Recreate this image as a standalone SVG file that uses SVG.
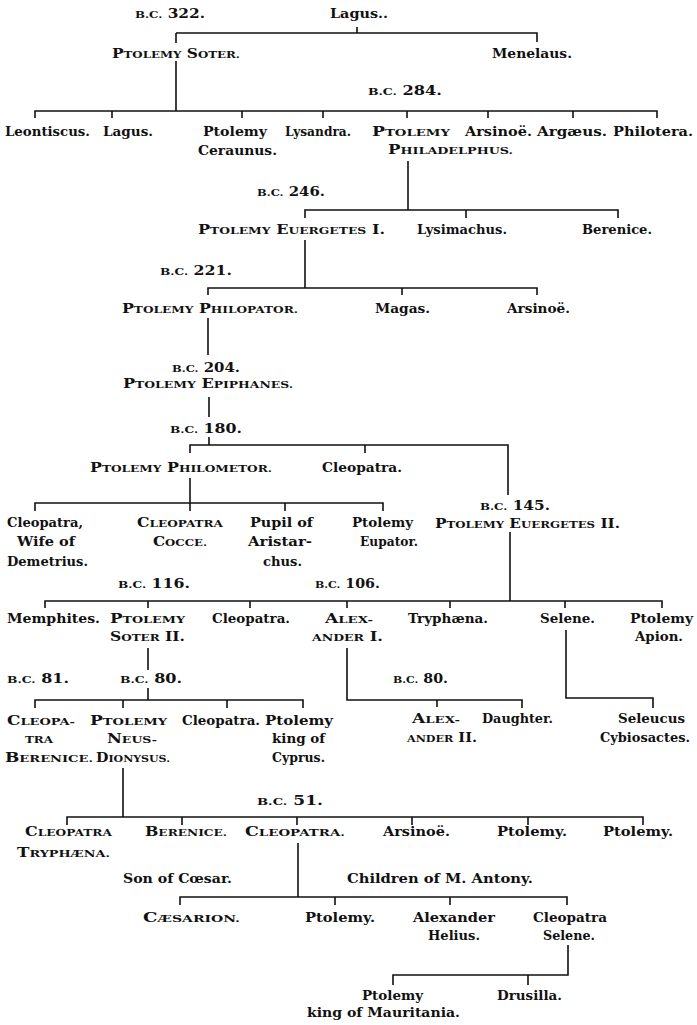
<svg xmlns="http://www.w3.org/2000/svg" width="697" height="1025" viewBox="0 0 697 1025">
<style>
text{font-family:"DejaVu Serif","Liberation Serif",serif;font-weight:bold;font-size:13px;fill:#111}
.s{font-size:10px}
.c path{stroke:#111;stroke-width:1.6;fill:none}
</style>
<rect width="697" height="1025" fill="#fff"/>
<g class="c" id="connectors">
<path d="M357 27V33M176 33H537V42M176 33V43M176 61V111"/>
<path d="M35 118V111H657V118M112 111V118M242 111V118M323 111V118M407 111V118M488 111V118M573 111V118"/>
<path d="M408 161V210"/>
<path d="M305 218V210H618V218M466 210V218"/>
<path d="M305 240V288"/>
<path d="M208 295V288H537V295M402 288V295"/>
<path d="M208 318V355M209 397V417M209 437V445"/>
<path d="M190 453V445H508V495M365 445V453"/>
<path d="M190 478V511"/>
<path d="M35 511V503H383V511M285 503V511"/>
<path d="M510 532V601"/>
<path d="M45 608V601H662V608M148 601V608M250 601V608M347 601V608M450 601V608M565 601V608"/>
<path d="M148 648V670M148 688V700"/>
<path d="M35 708V700H303V708M123 700V708M227 700V708"/>
<path d="M347 648V700H522V708M437 700V707"/>
<path d="M566 630V698H653V708"/>
<path d="M123 768V817M67 825V817H643V825M182 817V825M297 817V825M412 817V825M528 817V825"/>
<path d="M298 843V897M180 905V897H567V905M335 897V905M450 897V905"/>
<path d="M568 945V975H393V985M528 975V985"/>
</g>
<g id="dates">
<text x="135" y="18" textLength="70" lengthAdjust="spacingAndGlyphs"><tspan class="s">B.C.</tspan> 322.</text>
<text x="368" y="95" textLength="74" lengthAdjust="spacingAndGlyphs"><tspan class="s">B.C.</tspan> 284.</text>
<text x="257" y="196" textLength="68" lengthAdjust="spacingAndGlyphs"><tspan class="s">B.C.</tspan> 246.</text>
<text x="160" y="275" textLength="72" lengthAdjust="spacingAndGlyphs"><tspan class="s">B.C.</tspan> 221.</text>
<text x="172" y="372" textLength="68" lengthAdjust="spacingAndGlyphs"><tspan class="s">B.C.</tspan> 204.</text>
<text x="170" y="433" textLength="72" lengthAdjust="spacingAndGlyphs"><tspan class="s">B.C.</tspan> 180.</text>
<text x="480" y="510" textLength="70" lengthAdjust="spacingAndGlyphs"><tspan class="s">B.C.</tspan> 145.</text>
<text x="118" y="588" textLength="72" lengthAdjust="spacingAndGlyphs"><tspan class="s">B.C.</tspan> 116.</text>
<text x="315" y="588" textLength="65" lengthAdjust="spacingAndGlyphs"><tspan class="s">B.C.</tspan> 106.</text>
<text x="7" y="683" textLength="62" lengthAdjust="spacingAndGlyphs"><tspan class="s">B.C.</tspan> 81.</text>
<text x="120" y="683" textLength="62" lengthAdjust="spacingAndGlyphs"><tspan class="s">B.C.</tspan> 80.</text>
<text x="393" y="683" textLength="55" lengthAdjust="spacingAndGlyphs"><tspan class="s">B.C.</tspan> 80.</text>
<text x="257" y="805" textLength="66" lengthAdjust="spacingAndGlyphs"><tspan class="s">B.C.</tspan> 51.</text>
</g>
<g id="n-lagus"><text x="330" y="18" textLength="58" lengthAdjust="spacingAndGlyphs">Lagus..</text></g>
<g id="n-soter"><text x="112" y="58" textLength="128" lengthAdjust="spacingAndGlyphs">P<tspan class="s">TOLEMY</tspan> S<tspan class="s">OTER.</tspan></text></g>
<g id="n-menelaus"><text x="492" y="58" textLength="80" lengthAdjust="spacingAndGlyphs">Menelaus.</text></g>
<g id="n-leontiscus"><text x="5" y="136" textLength="85" lengthAdjust="spacingAndGlyphs">Leontiscus.</text></g>
<g id="n-lagus2"><text x="103" y="136" textLength="50" lengthAdjust="spacingAndGlyphs">Lagus.</text></g>
<g id="n-ceraunus"><text x="203" y="136" textLength="64" lengthAdjust="spacingAndGlyphs">Ptolemy</text><text x="198" y="155" textLength="79" lengthAdjust="spacingAndGlyphs">Ceraunus.</text></g>
<g id="n-lysandra"><text x="285" y="136" textLength="66" lengthAdjust="spacingAndGlyphs">Lysandra.</text></g>
<g id="n-philadelphus"><text x="372" y="136" textLength="78" lengthAdjust="spacingAndGlyphs">P<tspan class="s">TOLEMY</tspan></text><text x="388" y="154" textLength="125" lengthAdjust="spacingAndGlyphs">P<tspan class="s">HILADELPHUS.</tspan></text></g>
<g id="n-arsinoe1"><text x="465" y="136" textLength="67" lengthAdjust="spacingAndGlyphs">Arsinoë.</text></g>
<g id="n-argaeus"><text x="537" y="136" textLength="70" lengthAdjust="spacingAndGlyphs">Argæus.</text></g>
<g id="n-philotera"><text x="613" y="136" textLength="80" lengthAdjust="spacingAndGlyphs">Philotera.</text></g>
<g id="n-euergetes1"><text x="198" y="234" textLength="187" lengthAdjust="spacingAndGlyphs">P<tspan class="s">TOLEMY</tspan> E<tspan class="s">UERGETES</tspan> I.</text></g>
<g id="n-lysimachus"><text x="417" y="234" textLength="90" lengthAdjust="spacingAndGlyphs">Lysimachus.</text></g>
<g id="n-berenice1"><text x="582" y="234" textLength="70" lengthAdjust="spacingAndGlyphs">Berenice.</text></g>
<g id="n-philopator"><text x="122" y="313" textLength="176" lengthAdjust="spacingAndGlyphs">P<tspan class="s">TOLEMY</tspan> P<tspan class="s">HILOPATOR.</tspan></text></g>
<g id="n-magas"><text x="375" y="313" textLength="55" lengthAdjust="spacingAndGlyphs">Magas.</text></g>
<g id="n-arsinoe2"><text x="507" y="313" textLength="63" lengthAdjust="spacingAndGlyphs">Arsinoë.</text></g>
<g id="n-epiphanes"><text x="123" y="388" textLength="170" lengthAdjust="spacingAndGlyphs">P<tspan class="s">TOLEMY</tspan> E<tspan class="s">PIPHANES.</tspan></text></g>
<g id="n-philometor"><text x="90" y="472" textLength="182" lengthAdjust="spacingAndGlyphs">P<tspan class="s">TOLEMY</tspan> P<tspan class="s">HILOMETOR.</tspan></text></g>
<g id="n-cleopatra1"><text x="322" y="472" textLength="80" lengthAdjust="spacingAndGlyphs">Cleopatra.</text></g>
<g id="n-cleo-demetrius"><text x="7" y="527" textLength="76" lengthAdjust="spacingAndGlyphs">Cleopatra,</text><text x="17" y="546" textLength="58" lengthAdjust="spacingAndGlyphs">Wife of</text><text x="7" y="566" textLength="81" lengthAdjust="spacingAndGlyphs">Demetrius.</text></g>
<g id="n-cocce"><text x="137" y="527" textLength="86" lengthAdjust="spacingAndGlyphs">C<tspan class="s">LEOPATRA</tspan></text><text x="153" y="546" textLength="54" lengthAdjust="spacingAndGlyphs">C<tspan class="s">OCCE.</tspan></text></g>
<g id="n-pupil"><text x="250" y="527" textLength="63" lengthAdjust="spacingAndGlyphs">Pupil of</text><text x="248" y="546" textLength="64" lengthAdjust="spacingAndGlyphs">Aristar-</text><text x="263" y="566" textLength="39" lengthAdjust="spacingAndGlyphs">chus.</text></g>
<g id="n-eupator"><text x="352" y="527" textLength="61" lengthAdjust="spacingAndGlyphs">Ptolemy</text><text x="360" y="546" textLength="58" lengthAdjust="spacingAndGlyphs">Eupator.</text></g>
<g id="n-euergetes2"><text x="435" y="528" textLength="185" lengthAdjust="spacingAndGlyphs">P<tspan class="s">TOLEMY</tspan> E<tspan class="s">UERGETES</tspan> II.</text></g>
<g id="n-memphites"><text x="7" y="623" textLength="93" lengthAdjust="spacingAndGlyphs">Memphites.</text></g>
<g id="n-soter2"><text x="110" y="623" textLength="75" lengthAdjust="spacingAndGlyphs">P<tspan class="s">TOLEMY</tspan></text><text x="110" y="641" textLength="75" lengthAdjust="spacingAndGlyphs">S<tspan class="s">OTER</tspan> II.</text></g>
<g id="n-cleopatra2"><text x="212" y="623" textLength="78" lengthAdjust="spacingAndGlyphs">Cleopatra.</text></g>
<g id="n-alexander1"><text x="325" y="623" textLength="48" lengthAdjust="spacingAndGlyphs">A<tspan class="s">LEX-</tspan></text><text x="312" y="641" textLength="71" lengthAdjust="spacingAndGlyphs"><tspan class="s">ANDER</tspan> I.</text></g>
<g id="n-tryphaena1"><text x="408" y="623" textLength="80" lengthAdjust="spacingAndGlyphs">Tryphæna.</text></g>
<g id="n-selene1"><text x="540" y="623" textLength="55" lengthAdjust="spacingAndGlyphs">Selene.</text></g>
<g id="n-apion"><text x="630" y="623" textLength="63" lengthAdjust="spacingAndGlyphs">Ptolemy</text><text x="635" y="641" textLength="48" lengthAdjust="spacingAndGlyphs">Apion.</text></g>
<g id="n-cleo-berenice"><text x="7" y="725" textLength="68" lengthAdjust="spacingAndGlyphs">C<tspan class="s">LEOPA-</tspan></text><text x="25" y="743" textLength="28" lengthAdjust="spacingAndGlyphs"><tspan class="s">TRA</tspan></text><text x="5" y="762" textLength="88" lengthAdjust="spacingAndGlyphs">B<tspan class="s">ERENICE.</tspan></text></g>
<g id="n-neus"><text x="90" y="725" textLength="77" lengthAdjust="spacingAndGlyphs">P<tspan class="s">TOLEMY</tspan></text><text x="107" y="743" textLength="50" lengthAdjust="spacingAndGlyphs">N<tspan class="s">EUS-</tspan></text><text x="96" y="762" textLength="74" lengthAdjust="spacingAndGlyphs">D<tspan class="s">IONYSUS.</tspan></text></g>
<g id="n-cleopatra3"><text x="182" y="725" textLength="78" lengthAdjust="spacingAndGlyphs">Cleopatra.</text></g>
<g id="n-cyprus"><text x="265" y="725" textLength="68" lengthAdjust="spacingAndGlyphs">Ptolemy</text><text x="272" y="743" textLength="53" lengthAdjust="spacingAndGlyphs">king of</text><text x="272" y="762" textLength="53" lengthAdjust="spacingAndGlyphs">Cyprus.</text></g>
<g id="n-alexander2"><text x="412" y="723" textLength="48" lengthAdjust="spacingAndGlyphs">A<tspan class="s">LEX-</tspan></text><text x="407" y="742" textLength="70" lengthAdjust="spacingAndGlyphs"><tspan class="s">ANDER</tspan> II.</text></g>
<g id="n-daughter"><text x="482" y="723" textLength="71" lengthAdjust="spacingAndGlyphs">Daughter.</text></g>
<g id="n-seleucus"><text x="618" y="723" textLength="67" lengthAdjust="spacingAndGlyphs">Seleucus</text><text x="600" y="742" textLength="90" lengthAdjust="spacingAndGlyphs">Cybiosactes.</text></g>
<g id="n-tryphaena2"><text x="25" y="836" textLength="87" lengthAdjust="spacingAndGlyphs">C<tspan class="s">LEOPATRA</tspan></text><text x="17" y="857" textLength="93" lengthAdjust="spacingAndGlyphs">T<tspan class="s">RYPHÆNA.</tspan></text></g>
<g id="n-berenice2"><text x="145" y="836" textLength="82" lengthAdjust="spacingAndGlyphs">B<tspan class="s">ERENICE.</tspan></text></g>
<g id="n-cleopatra-vii"><text x="245" y="836" textLength="100" lengthAdjust="spacingAndGlyphs">C<tspan class="s">LEOPATRA.</tspan></text></g>
<g id="n-arsinoe3"><text x="383" y="836" textLength="67" lengthAdjust="spacingAndGlyphs">Arsinoë.</text></g>
<g id="n-ptolemy-a"><text x="497" y="836" textLength="70" lengthAdjust="spacingAndGlyphs">Ptolemy.</text></g>
<g id="n-ptolemy-b"><text x="603" y="836" textLength="70" lengthAdjust="spacingAndGlyphs">Ptolemy.</text></g>
<g id="labels"><text x="123" y="883" textLength="109" lengthAdjust="spacingAndGlyphs">Son of Cœsar.</text><text x="347" y="883" textLength="186" lengthAdjust="spacingAndGlyphs">Children of M. Antony.</text></g>
<g id="n-caesarion"><text x="143" y="922" textLength="97" lengthAdjust="spacingAndGlyphs">C<tspan class="s">ÆSARION.</tspan></text></g>
<g id="n-ptolemy-c"><text x="305" y="922" textLength="70" lengthAdjust="spacingAndGlyphs">Ptolemy.</text></g>
<g id="n-helius"><text x="413" y="922" textLength="82" lengthAdjust="spacingAndGlyphs">Alexander</text><text x="428" y="940" textLength="52" lengthAdjust="spacingAndGlyphs">Helius.</text></g>
<g id="n-selene2"><text x="533" y="922" textLength="74" lengthAdjust="spacingAndGlyphs">Cleopatra</text><text x="543" y="940" textLength="52" lengthAdjust="spacingAndGlyphs">Selene.</text></g>
<g id="n-mauritania"><text x="362" y="1000" textLength="61" lengthAdjust="spacingAndGlyphs">Ptolemy</text><text x="307" y="1017" textLength="153" lengthAdjust="spacingAndGlyphs">king of Mauritania.</text></g>
<g id="n-drusilla"><text x="497" y="1000" textLength="65" lengthAdjust="spacingAndGlyphs">Drusilla.</text></g>
</svg>
